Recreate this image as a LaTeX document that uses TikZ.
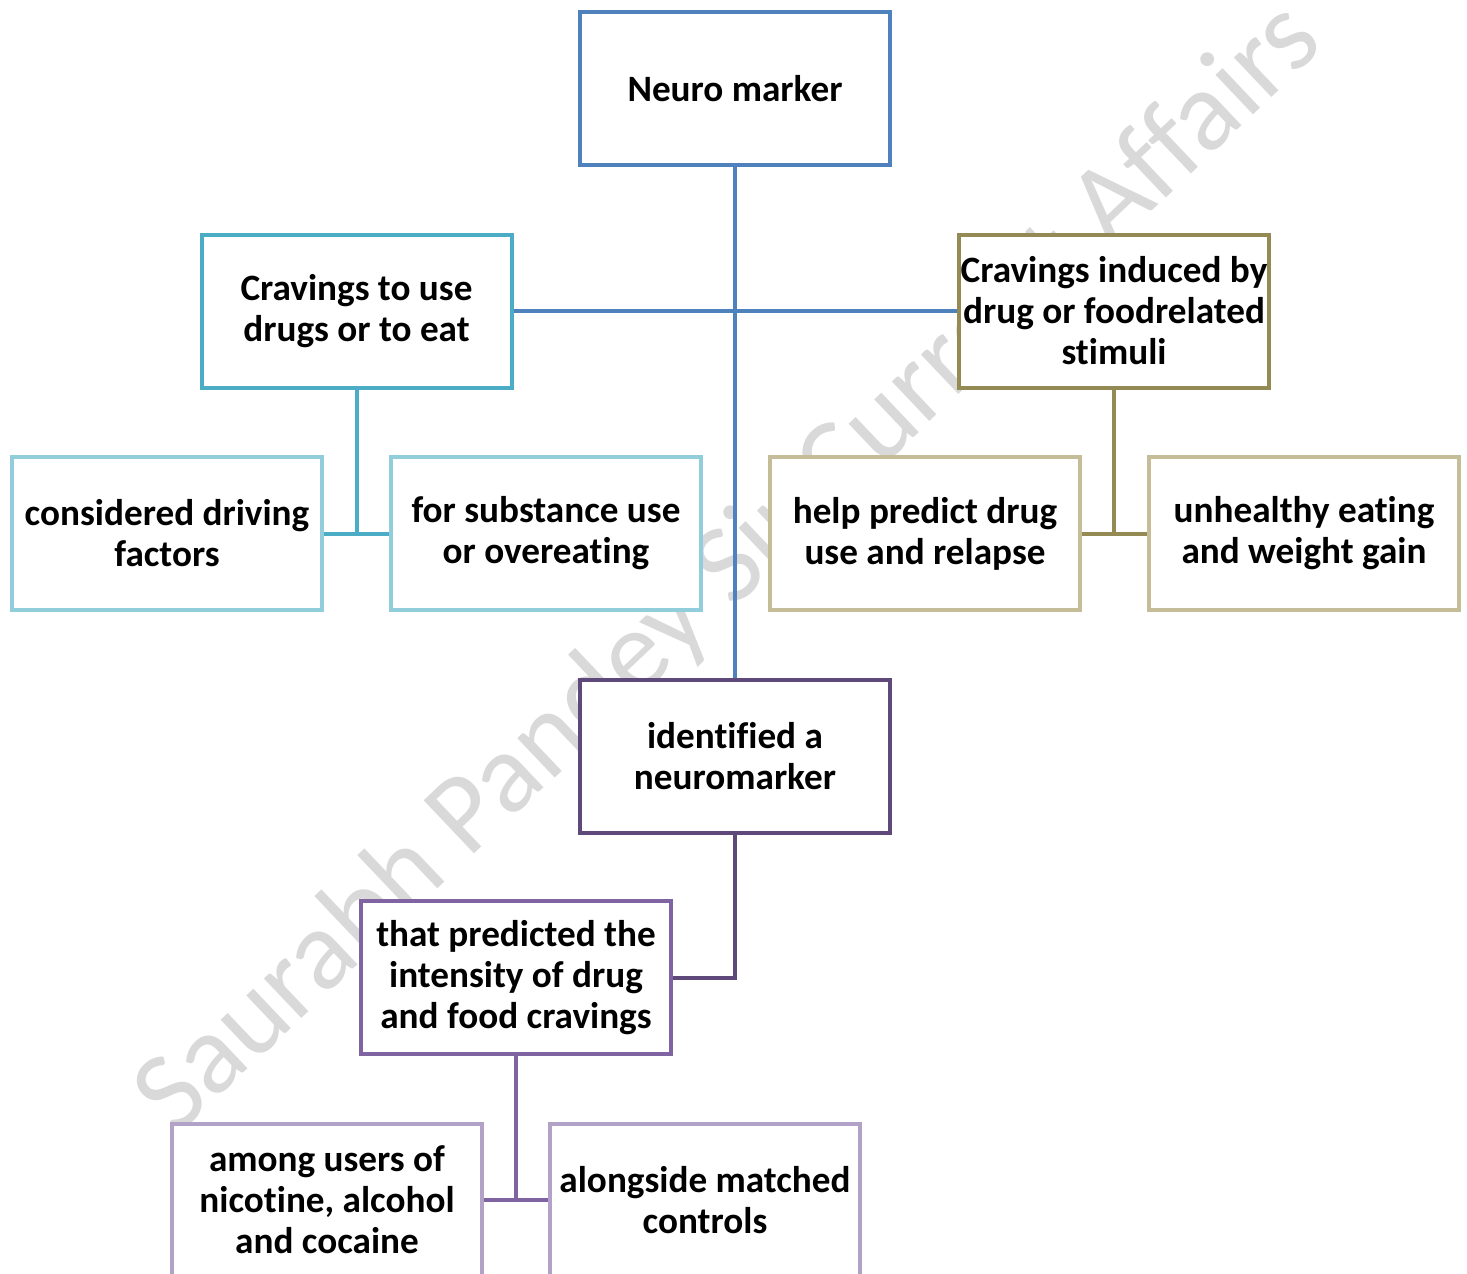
\documentclass[tikz,border=0pt]{standalone}
\usepackage{fontspec}
\setmainfont{Carlito}[Ligatures={NoCommon}]
\begin{document}
\begin{tikzpicture}[x=0.5pt,y=-0.5pt,
  box/.style={draw=#1, line width=2pt, fill=white, minimum width=155pt, minimum height=76.5pt,
    inner sep=0pt, align=center, font=\fontsize{18.6}{20.5}\selectfont\bfseries},
  conn/.style={draw=#1, line width=2pt}]
\definecolor{cblue}{HTML}{4F81BD}
\definecolor{cteal}{HTML}{4BACC6}
\definecolor{clteal}{HTML}{92CDDC}
\definecolor{colive}{HTML}{948A54}
\definecolor{clolive}{HTML}{C4BD97}
\definecolor{cdpurple}{HTML}{5F497A}
\definecolor{cpurple}{HTML}{8064A2}
\definecolor{clpurple}{HTML}{B3A2C7}
\definecolor{cwm}{HTML}{D9D9D9}
\clip (0,0) rectangle (1467,1274);
\fill[white] (0,0) rectangle (1467,1274);
% watermark
\node[text=cwm, rotate=43.5, font=\fontsize{57}{64}\selectfont] (wm) at (730,570) {Saurabh Pandey Sir Current Affairs};
\coordinate (tj) at (356.5,533.5);
\coordinate (oj) at (1114,533.5);
\coordinate (bj) at (516,1200);
% boxes
\node[box=cblue] (neuro) at (735,88.5) {Neuro marker};
\node[box=cteal] (crav1) at (356.5,311) {Cravings to use\\drugs or to eat};
\node[box=colive] (crav2) at (1114,311) {Cravings induced by\\drug or foodrelated\\stimuli};
\node[box=clteal] (drive) at (167,533.5) {considered driving\\factors};
\node[box=clteal] (subst) at (546,533.5) {for substance use\\or overeating};
\node[box=clolive] (help) at (925,533.5) {help predict drug\\use and relapse};
\node[box=clolive] (unh) at (1304,533.5) {unhealthy eating\\and weight gain};
\node[box=cdpurple] (ident) at (735,756) {identified a\\neuromarker};
\node[box=cpurple] (pred) at (516,977.5) {that predicted the\\intensity of drug\\and food cravings};
\node[box=clpurple] (among) at (327,1200) {among users of\\nicotine, alcohol\\and cocaine};
\node[box=clpurple] (along) at (705,1200) {alongside matched\\controls};
% connectors
\draw[conn=cblue] (neuro.south) -- (ident.north);
\draw[conn=cblue] (crav1.east) -- (crav2.west);
\draw[conn=cteal] (crav1.south) -- (tj);
\draw[conn=cteal] (drive.east) -- (subst.west);
\draw[conn=colive] (crav2.south) -- (oj);
\draw[conn=colive] (help.east) -- (unh.west);
\draw[conn=cdpurple] (ident.south) |- (pred.east);
\draw[conn=cpurple] (pred.south) -- (bj);
\draw[conn=cpurple] (among.east) -- (along.west);
\end{tikzpicture}
\end{document}
